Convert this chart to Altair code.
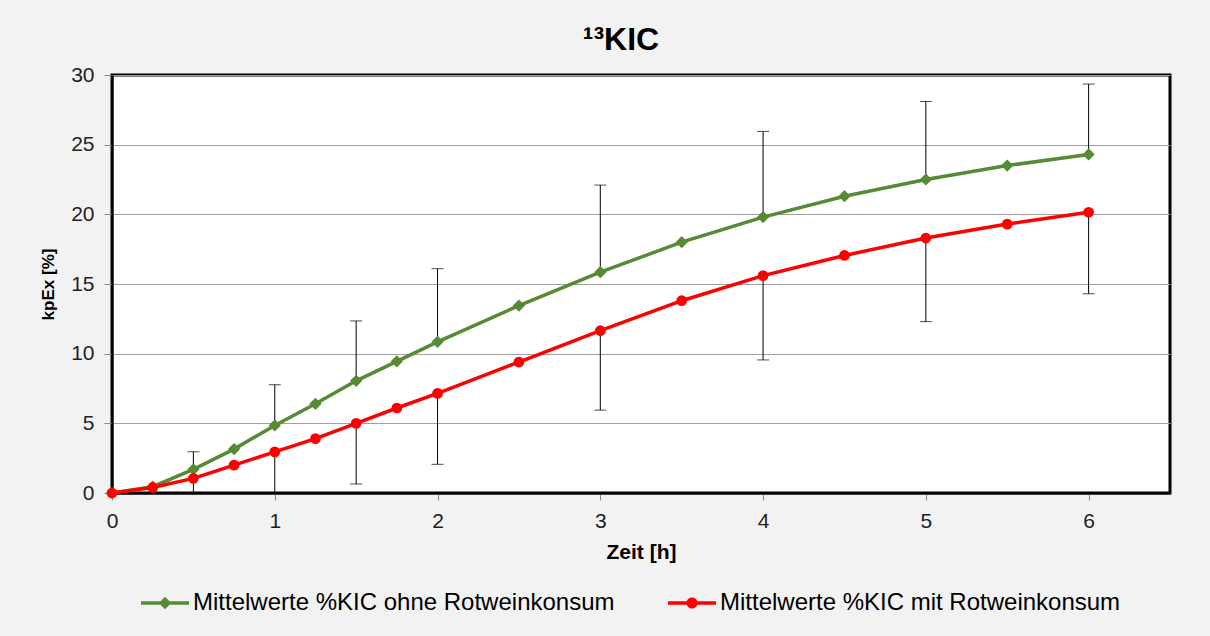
import altair as alt
import pandas as pd

# ---- data ----
zeit = [0, 0.25, 0.5, 0.75, 1, 1.25, 1.5, 1.75, 2, 2.5, 3, 3.5, 4, 4.5, 5, 5.5, 6]
ohne = [0, 0.45, 1.7, 3.15, 4.85, 6.4, 8.05, 9.45, 10.85, 13.45, 15.85, 18.0, 19.8, 21.3, 22.5, 23.5, 24.3]
mit = [0, 0.4, 1.05, 2.0, 2.95, 3.9, 5.0, 6.1, 7.15, 9.4, 11.65, 13.8, 15.6, 17.05, 18.3, 19.3, 20.15]

err_x = [0.5, 1, 1.5, 2, 3, 4, 5, 6]
ohne_upper = [2.96, 7.77, 12.35, 16.1, 22.1, 25.95, 28.1, 29.35]
mit_lower = [-0.8, -1.0, 0.65, 2.06, 5.95, 9.55, 12.3, 14.3]

s_ohne = "Mittelwerte %KIC ohne Rotweinkonsum"
s_mit = "Mittelwerte %KIC mit Rotweinkonsum"
series = [s_ohne, s_mit]
colors = ["#568A35", "#FF0000"]
x_ticks = [0, 1, 2, 3, 4, 5, 6]
y_ticks = [0, 5, 10, 15, 20, 25, 30]

# ---- tables ----
df = pd.DataFrame(
    {"Zeit": zeit * 2,
     "kpEx": ohne + mit,
     "Serie": [s_ohne] * len(zeit) + [s_mit] * len(zeit)}
)
ohne_at = dict(zip(zeit, ohne))
mit_at = dict(zip(zeit, mit))
err = pd.DataFrame(
    {"Zeit": err_x * 2,
     "from": [ohne_at[x] for x in err_x] + [mit_at[x] for x in err_x],
     "to": ohne_upper + mit_lower}
)

FONT = "Liberation Sans"
xs = alt.Scale(domain=[0, 6.5], nice=False)
ys = alt.Scale(domain=[0, 30], nice=False)

x_axis = alt.Axis(values=x_ticks, format="d", grid=False, title="Zeit [h]",
                  tickSize=7, tickColor="#888888", labelPadding=10, labelFlush=False,
                  domainColor="#000000", domainWidth=2, titlePadding=10,
                  titleFontSize=21)
y_axis = alt.Axis(values=y_ticks, grid=True, gridColor="#a0a0a0", gridWidth=1,
                  title="kpEx [%]", tickSize=8, tickColor="#888888",
                  labelPadding=10, labelFlush=False, domainColor="#000000", domainWidth=2,
                  titlePadding=13, titleFontSize=17)

# legend symbols: a line segment with the series marker (filled paths, unit coords)
diamond_sym = "M-1,-0.075L1,-0.075L1,0.075L-1,0.075ZM0,-0.26L0.26,0L0,0.26L-0.26,0Z"
circle_sym = ("M-1,-0.075L1,-0.075L1,0.075L-1,0.075Z"
              "M0.23,0A0.23,0.23,0,1,1,-0.23,0A0.23,0.23,0,1,1,0.23,0Z")

legend = alt.Legend(
    title=None, orient="none", direction="horizontal", columns=2,
    legendX=28, legendY=503,
    symbolSize=2304, labelOffset=3, symbolOpacity=1,
    labelFontSize=24, labelFont=FONT, labelColor="#000000",
    columnPadding=50, labelLimit=700,
)

base = alt.Chart(df)
X = alt.X("Zeit:Q", scale=xs)
Y = alt.Y("kpEx:Q", scale=ys)

bars = alt.Chart(err).mark_rule(color="#000000", strokeWidth=1, clip=True).encode(
    x=alt.X("Zeit:Q", scale=xs, axis=x_axis),
    y=alt.Y("from:Q", scale=ys, axis=y_axis),
    y2="to:Q",
)
caps = alt.Chart(err).mark_tick(color="#000000", thickness=1, size=12,
                                orient="horizontal", clip=True).encode(
    x=alt.X("Zeit:Q", scale=xs),
    y=alt.Y("to:Q", scale=ys),
)
line_ohne = base.transform_filter(alt.datum.Serie == s_ohne).mark_line(
    strokeWidth=3.5, color=colors[0]).encode(x=X, y=Y)
line_mit = base.transform_filter(alt.datum.Serie == s_mit).mark_line(
    strokeWidth=3.5, color=colors[1]).encode(x=X, y=Y)
pts_ohne = base.transform_filter(alt.datum.Serie == s_ohne).mark_point(
    shape="diamond", filled=True, size=150, opacity=1, color=colors[0]
).encode(x=X, y=Y)
pts_mit = base.transform_filter(alt.datum.Serie == s_mit).mark_point(
    shape="circle", filled=True, size=115, opacity=1, color=colors[1]
).encode(x=X, y=Y)

# legend-only layer (no rows pass the filter; the legend comes from the scale domains)
legend_layer = base.transform_filter("false").mark_point(filled=True, opacity=1).encode(
    x=X, y=Y,
    color=alt.Color("Serie:N", scale=alt.Scale(domain=series, range=colors), legend=legend),
    shape=alt.Shape("Serie:N", scale=alt.Scale(domain=series, range=[diamond_sym, circle_sym]),
                    legend=legend),
)

chart = alt.layer(bars, caps, line_ohne, line_mit, pts_ohne, pts_mit, legend_layer).properties(
    width=1058, height=418,
    title=alt.TitleParams("¹³KIC", anchor="middle", frame="group", dx=-20,
                          fontSize=32, font=FONT, fontWeight="bold",
                          color="#000000", offset=7),
    autosize=alt.AutoSizeParams(type="none"),
    padding={"left": 112, "top": 75, "right": 40, "bottom": 143},
    background="#f2f2f2",
).configure_view(
    stroke="#000000", strokeWidth=3, fill="#ffffff"
).configure_axis(
    labelFont=FONT, labelFontSize=21, labelColor="#222222",
    titleFont=FONT, titleFontWeight="bold", titleColor="#000000",
)

chart.save("out.html", embed_options={"renderer": "svg", "actions": False})
